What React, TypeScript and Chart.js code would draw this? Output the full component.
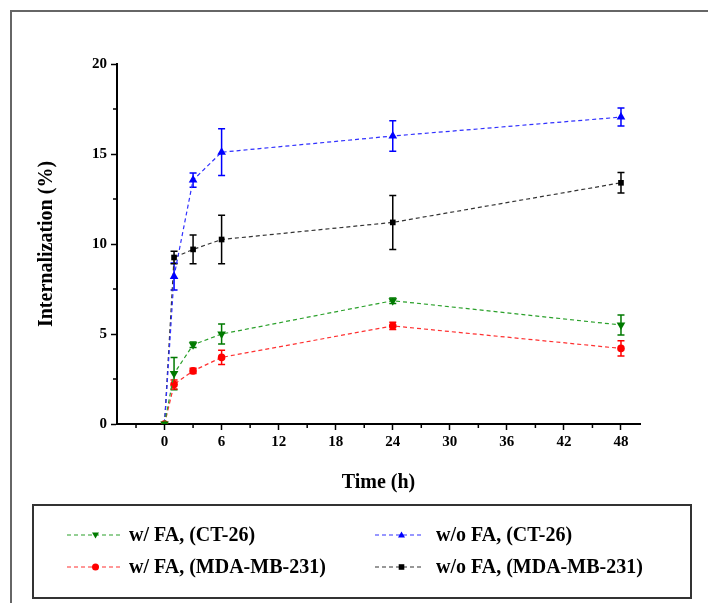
import React, { useEffect, useRef } from "react";
import { Chart, registerables } from "chart.js";

Chart.register(...registerables);

const times = [0, 1, 3, 6, 24, 48];
const xTickValues = [0, 6, 12, 18, 24, 30, 36, 42, 48];
const xMinorTicks = [-3, 3, 9, 15, 21, 27, 33, 39, 45];
const yTickValues = [0, 5, 10, 15, 20];
const yMinorTicks = [2.5, 7.5, 12.5, 17.5];

const seriesLabels = [
  "w/ FA, (CT-26)",
  "w/ FA, (MDA-MB-231)",
  "w/o FA, (CT-26)",
  "w/o FA, (MDA-MB-231)",
];
const wFaCT26 = [0, 2.8, 4.4, 5.0, 6.85, 5.5];
const wFaCT26Err = [0, 0.9, 0.15, 0.55, 0.15, 0.55];
const wFaMDA = [0, 2.2, 2.95, 3.7, 5.45, 4.2];
const wFaMDAErr = [0, 0.25, 0.15, 0.4, 0.2, 0.42];
const woFaCT26 = [0, 8.2, 13.55, 15.1, 16.0, 17.05];
const woFaCT26Err = [0, 0.75, 0.4, 1.3, 0.85, 0.5];
const woFaMDA = [0, 9.25, 9.7, 10.25, 11.2, 13.4];
const woFaMDAErr = [0, 0.35, 0.8, 1.35, 1.5, 0.57];

const FONT = "'Liberation Serif', 'Times New Roman', serif";

const errorBarPlugin = {
  id: "errorBars",
  beforeDatasetsDraw(chart: any) {
    const ctx = chart.ctx;
    const yScale = chart.scales.y;
    chart.data.datasets.forEach((ds: any, di: number) => {
      const meta = chart.getDatasetMeta(di);
      const errs = ds.errors || [];
      ctx.save();
      ctx.strokeStyle = ds.pointBackgroundColor;
      ctx.lineWidth = 1.5;
      meta.data.forEach((pt: any, i: number) => {
        const e = errs[i];
        if (!e) return;
        const v = ds.data[i].y;
        const yt = yScale.getPixelForValue(v + e);
        const yb = yScale.getPixelForValue(v - e);
        const x = pt.x;
        ctx.beginPath();
        ctx.moveTo(x, yt);
        ctx.lineTo(x, yb);
        ctx.moveTo(x - 3.5, yt);
        ctx.lineTo(x + 3.5, yt);
        ctx.moveTo(x - 3.5, yb);
        ctx.lineTo(x + 3.5, yb);
        ctx.stroke();
      });
      ctx.restore();
    });
  },
};

const decorPlugin = {
  id: "decor",
  beforeDraw(chart: any) {
    const ctx = chart.ctx;
    ctx.save();
    ctx.fillStyle = "#fff";
    ctx.fillRect(0, 0, chart.width, chart.height);
    ctx.strokeStyle = "#666";
    ctx.lineWidth = 2;
    ctx.beginPath();
    ctx.moveTo(11, chart.height);
    ctx.lineTo(11, 11);
    ctx.lineTo(chart.width, 11);
    ctx.stroke();
    ctx.restore();
  },
  afterDraw(chart: any) {
    const ctx = chart.ctx;
    const xs = chart.scales.x;
    const ys = chart.scales.y;
    ctx.save();
    ctx.strokeStyle = "#000";
    ctx.lineWidth = 1.5;
    ctx.beginPath();
    xMinorTicks.forEach((v) => {
      const px = xs.getPixelForValue(v);
      ctx.moveTo(px, ys.bottom);
      ctx.lineTo(px, ys.bottom + 4);
    });
    yMinorTicks.forEach((v) => {
      const py = ys.getPixelForValue(v);
      ctx.moveTo(xs.left, py);
      ctx.lineTo(xs.left - 4, py);
    });
    ctx.stroke();

    // legend box
    ctx.strokeStyle = "#333";
    ctx.lineWidth = 2;
    ctx.strokeRect(33, 505, 658, 93);
    const cols = [
      { lx0: 67, lx1: 120, tx: 129 },
      { lx0: 375, lx1: 424, tx: 436 },
    ];
    const rows = [535, 567];
    const order = [
      [0, 0, 0],
      [2, 1, 0],
      [1, 0, 1],
      [3, 1, 1],
    ];
    order.forEach(([di, c, r]) => {
      const ds = chart.data.datasets[di];
      const col = cols[c];
      const y = rows[r];
      ctx.save();
      ctx.strokeStyle = ds.borderColor;
      ctx.lineWidth = 1.2;
      ctx.setLineDash([4, 3]);
      ctx.beginPath();
      ctx.moveTo(col.lx0, y);
      ctx.lineTo(col.lx1, y);
      ctx.stroke();
      ctx.restore();
      const mx = (col.lx0 + col.lx1) / 2 + 2;
      ctx.save();
      ctx.fillStyle = ds.pointBackgroundColor;
      ctx.strokeStyle = ds.pointBackgroundColor;
      ctx.lineWidth = 1;
      (Chart as any).helpers
        ? null
        : null;
      drawMarker(ctx, ds.pointStyle, ds.pointRotation || 0, mx, y, 3.5);
      ctx.restore();
      ctx.fillStyle = "#000";
      ctx.font = `bold 20px ${FONT}`;
      ctx.textBaseline = "middle";
      ctx.textAlign = "left";
      ctx.fillText(ds.label, col.tx, y + 1);
    });
    ctx.restore();
  },
};

function drawMarker(ctx: CanvasRenderingContext2D, style: string, rot: number, x: number, y: number, r: number) {
  ctx.beginPath();
  if (style === "circle") {
    ctx.arc(x, y, r, 0, Math.PI * 2);
  } else if (style === "rect") {
    ctx.rect(x - r * 0.8, y - r * 0.8, r * 1.6, r * 1.6);
  } else {
    const s = rot === 180 ? -1 : 1;
    ctx.moveTo(x, y - s * r);
    ctx.lineTo(x + r, y + s * r * 0.7);
    ctx.lineTo(x - r, y + s * r * 0.7);
    ctx.closePath();
  }
  ctx.fill();
}

function toPoints(vals: number[]) {
  return times.map((t, i) => ({ x: t, y: vals[i] }));
}

export default function App() {
  const ref = useRef<HTMLCanvasElement>(null);
  useEffect(() => {
    if (!ref.current) return;
    const mk = (label: string, vals: number[], errs: number[], line: string, mark: string, style: string, rot: number, radius: number) => ({
      label,
      data: toPoints(vals),
      errors: errs,
      borderColor: line,
      backgroundColor: mark,
      pointBackgroundColor: mark,
      pointBorderColor: mark,
      pointStyle: style,
      pointRotation: rot,
      pointRadius: radius,
      pointBorderWidth: 0,
      borderWidth: 1.2,
      borderDash: [4, 3],
      fill: false,
      tension: 0,
    });
    const chart = new Chart(ref.current, {
      type: "line",
      data: {
        datasets: [
          mk(seriesLabels[0], wFaCT26, wFaCT26Err, "#2aa02a", "#007a00", "triangle", 180, 5),
          mk(seriesLabels[1], wFaMDA, wFaMDAErr, "#ff3030", "#ff0000", "circle", 0, 3.8),
          mk(seriesLabels[2], woFaCT26, woFaCT26Err, "#3030ff", "#0000ff", "triangle", 0, 5),
          mk(seriesLabels[3], woFaMDA, woFaMDAErr, "#333333", "#000000", "rect", 0, 4),
        ] as any,
      },
      options: {
        animation: false,
        responsive: false,
        layout: { padding: { left: 31, right: 68, top: 64, bottom: 104 } },
        plugins: { legend: { display: false }, tooltip: { enabled: false } },
        scales: {
          x: {
            type: "linear",
            min: -5,
            max: 50,
            afterBuildTicks: (axis: any) => {
              axis.ticks = xTickValues.map((v) => ({ value: v }));
            },
            afterFit: (s: any) => {
              s.height = 75;
            },
            grid: { drawOnChartArea: false, tickLength: 6, tickColor: "#000", tickWidth: 1.5 },
            border: { display: true, color: "#000", width: 2 },
            ticks: { color: "#000", font: { family: FONT, size: 15, weight: "bold" }, padding: 3, maxRotation: 0, autoSkip: false },
            title: { display: true, text: "Time (h)", color: "#000", font: { family: FONT, size: 20, weight: "bold" }, padding: 4 },
          },
          y: {
            type: "linear",
            min: 0,
            max: 20,
            afterBuildTicks: (axis: any) => {
              axis.ticks = yTickValues.map((v) => ({ value: v }));
            },
            afterFit: (s: any) => {
              s.width = 86;
            },
            grid: { drawOnChartArea: false, tickLength: 6, tickColor: "#000", tickWidth: 1.5 },
            border: { display: true, color: "#000", width: 2 },
            ticks: { color: "#000", font: { family: FONT, size: 15, weight: "bold" }, padding: 4 },
            title: { display: true, text: "Internalization (%)", color: "#000", font: { family: FONT, size: 20, weight: "bold" }, padding: 4 },
          },
        },
      } as any,
      plugins: [decorPlugin, errorBarPlugin],
    });
    return () => chart.destroy();
  }, []);
  return (
    <div style={{ position: "fixed", left: 0, top: 0, width: 708, height: 603 }}>
      <canvas ref={ref} width={708} height={603} style={{ display: "block" }} />
    </div>
  );
}
